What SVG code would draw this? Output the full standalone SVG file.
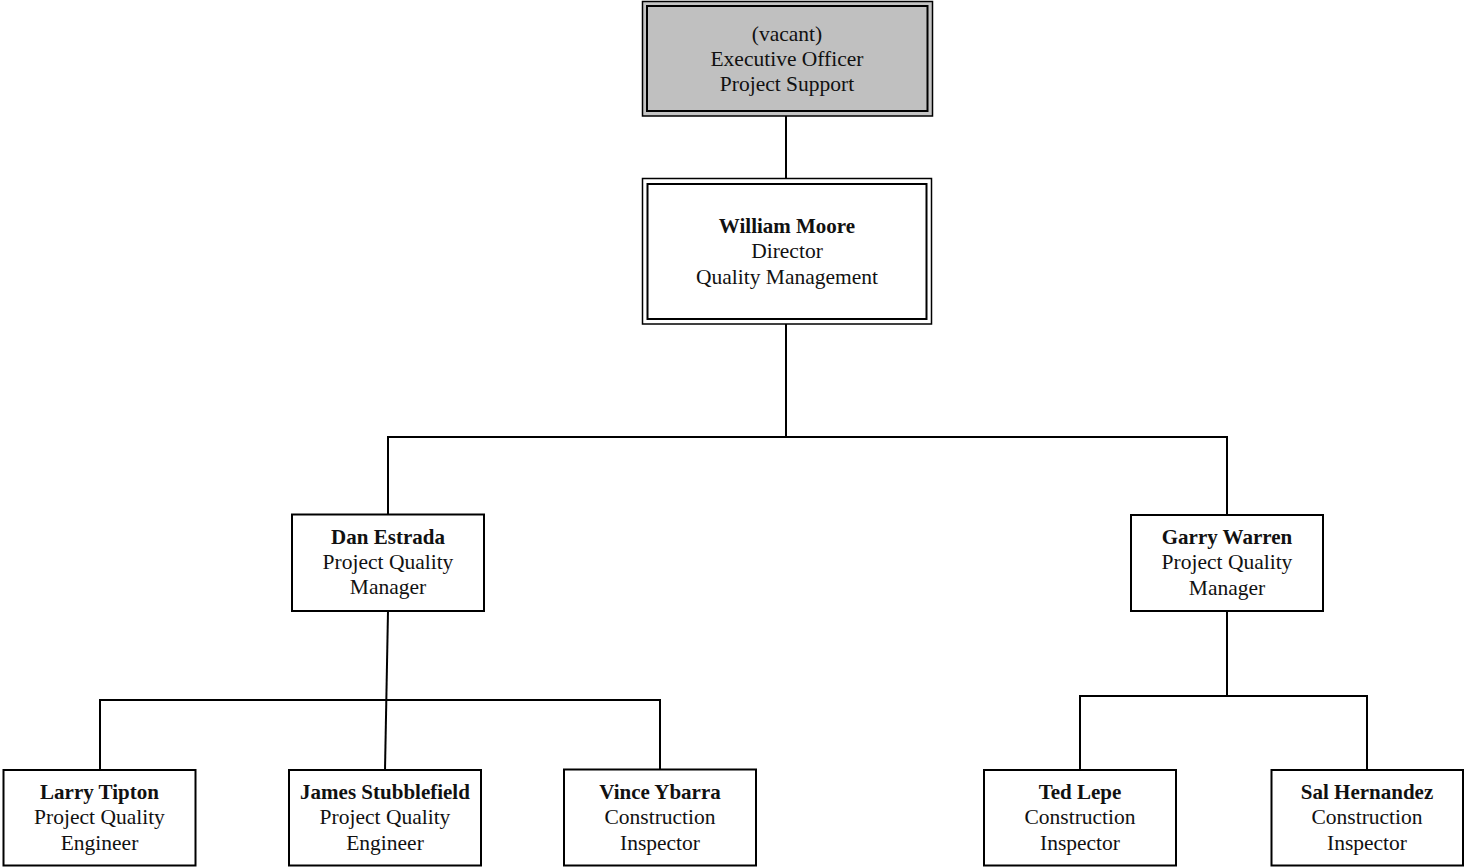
<svg xmlns="http://www.w3.org/2000/svg" width="1464" height="867" viewBox="0 0 1464 867">
<style>
  .box { fill: #ffffff; stroke: #000000; stroke-width: 2; }
  .outer { stroke: #000000; stroke-width: 1.5; }
  .inner { stroke: #000000; stroke-width: 2; }
  .conn { fill: none; stroke: #000000; stroke-width: 2; }
  text { font-family: "Liberation Serif", "Times New Roman", serif; font-size: 21.5px; fill: #111111; text-anchor: middle; }
  .b { font-weight: bold; font-size: 21px; }
</style>
<rect width="1464" height="867" fill="#ffffff"/>
<g id="connectors">
  <line class="conn" x1="786" y1="116" x2="786" y2="179"/>
  <polyline class="conn" points="786,324 786,437"/>
  <polyline class="conn" points="388,514 388,437 1227,437 1227,515"/>
  <polyline class="conn" points="388,611 385,770"/>
  <polyline class="conn" points="100,770 100,700 660,700 660,769"/>
  <polyline class="conn" points="1227,611 1227,696"/>
  <polyline class="conn" points="1080,770 1080,696 1367,696 1367,770"/>
</g>
<g id="exec">
  <rect class="outer" x="642.5" y="1.5" width="290" height="114.5" fill="#c4c4c4"/>
  <rect class="inner" x="647" y="6" width="280.5" height="105" fill="#c0c0c0"/>
  <text x="787" y="41">(vacant)</text>
  <text x="787" y="66">Executive Officer</text>
  <text x="787" y="91">Project Support</text>
</g>
<g id="moore">
  <rect class="outer" x="642.5" y="178.5" width="289" height="145.5" fill="#ffffff"/>
  <rect class="inner" x="647.5" y="184" width="279" height="135" fill="#ffffff"/>
  <text class="b" x="787" y="233">William Moore</text>
  <text x="787" y="258">Director</text>
  <text x="787" y="283.5">Quality Management</text>
</g>
<g id="estrada">
  <rect class="box" x="292" y="514.5" width="192" height="96.5"/>
  <text class="b" x="388" y="543.5">Dan Estrada</text>
  <text x="388" y="568.5">Project Quality</text>
  <text x="388" y="594">Manager</text>
</g>
<g id="warren">
  <rect class="box" x="1131" y="515" width="192" height="96"/>
  <text class="b" x="1227" y="544">Garry Warren</text>
  <text x="1227" y="569">Project Quality</text>
  <text x="1227" y="595">Manager</text>
</g>
<g id="tipton">
  <rect class="box" x="3.5" y="770" width="192" height="95.5"/>
  <text class="b" x="99.5" y="799">Larry Tipton</text>
  <text x="99.5" y="824">Project Quality</text>
  <text x="99.5" y="849.5">Engineer</text>
</g>
<g id="stubblefield">
  <rect class="box" x="289" y="770" width="192" height="95.5"/>
  <text class="b" x="385" y="799">James Stubblefield</text>
  <text x="385" y="824">Project Quality</text>
  <text x="385" y="849.5">Engineer</text>
</g>
<g id="ybarra">
  <rect class="box" x="564" y="769.5" width="192" height="96"/>
  <text class="b" x="660" y="799">Vince Ybarra</text>
  <text x="660" y="824">Construction</text>
  <text x="660" y="849.5">Inspector</text>
</g>
<g id="lepe">
  <rect class="box" x="984" y="770" width="192" height="95.5"/>
  <text class="b" x="1080" y="799">Ted Lepe</text>
  <text x="1080" y="824">Construction</text>
  <text x="1080" y="849.5">Inspector</text>
</g>
<g id="hernandez">
  <rect class="box" x="1271.5" y="770" width="191.5" height="95.5"/>
  <text class="b" x="1367" y="799">Sal Hernandez</text>
  <text x="1367" y="824">Construction</text>
  <text x="1367" y="849.5">Inspector</text>
</g>
</svg>
